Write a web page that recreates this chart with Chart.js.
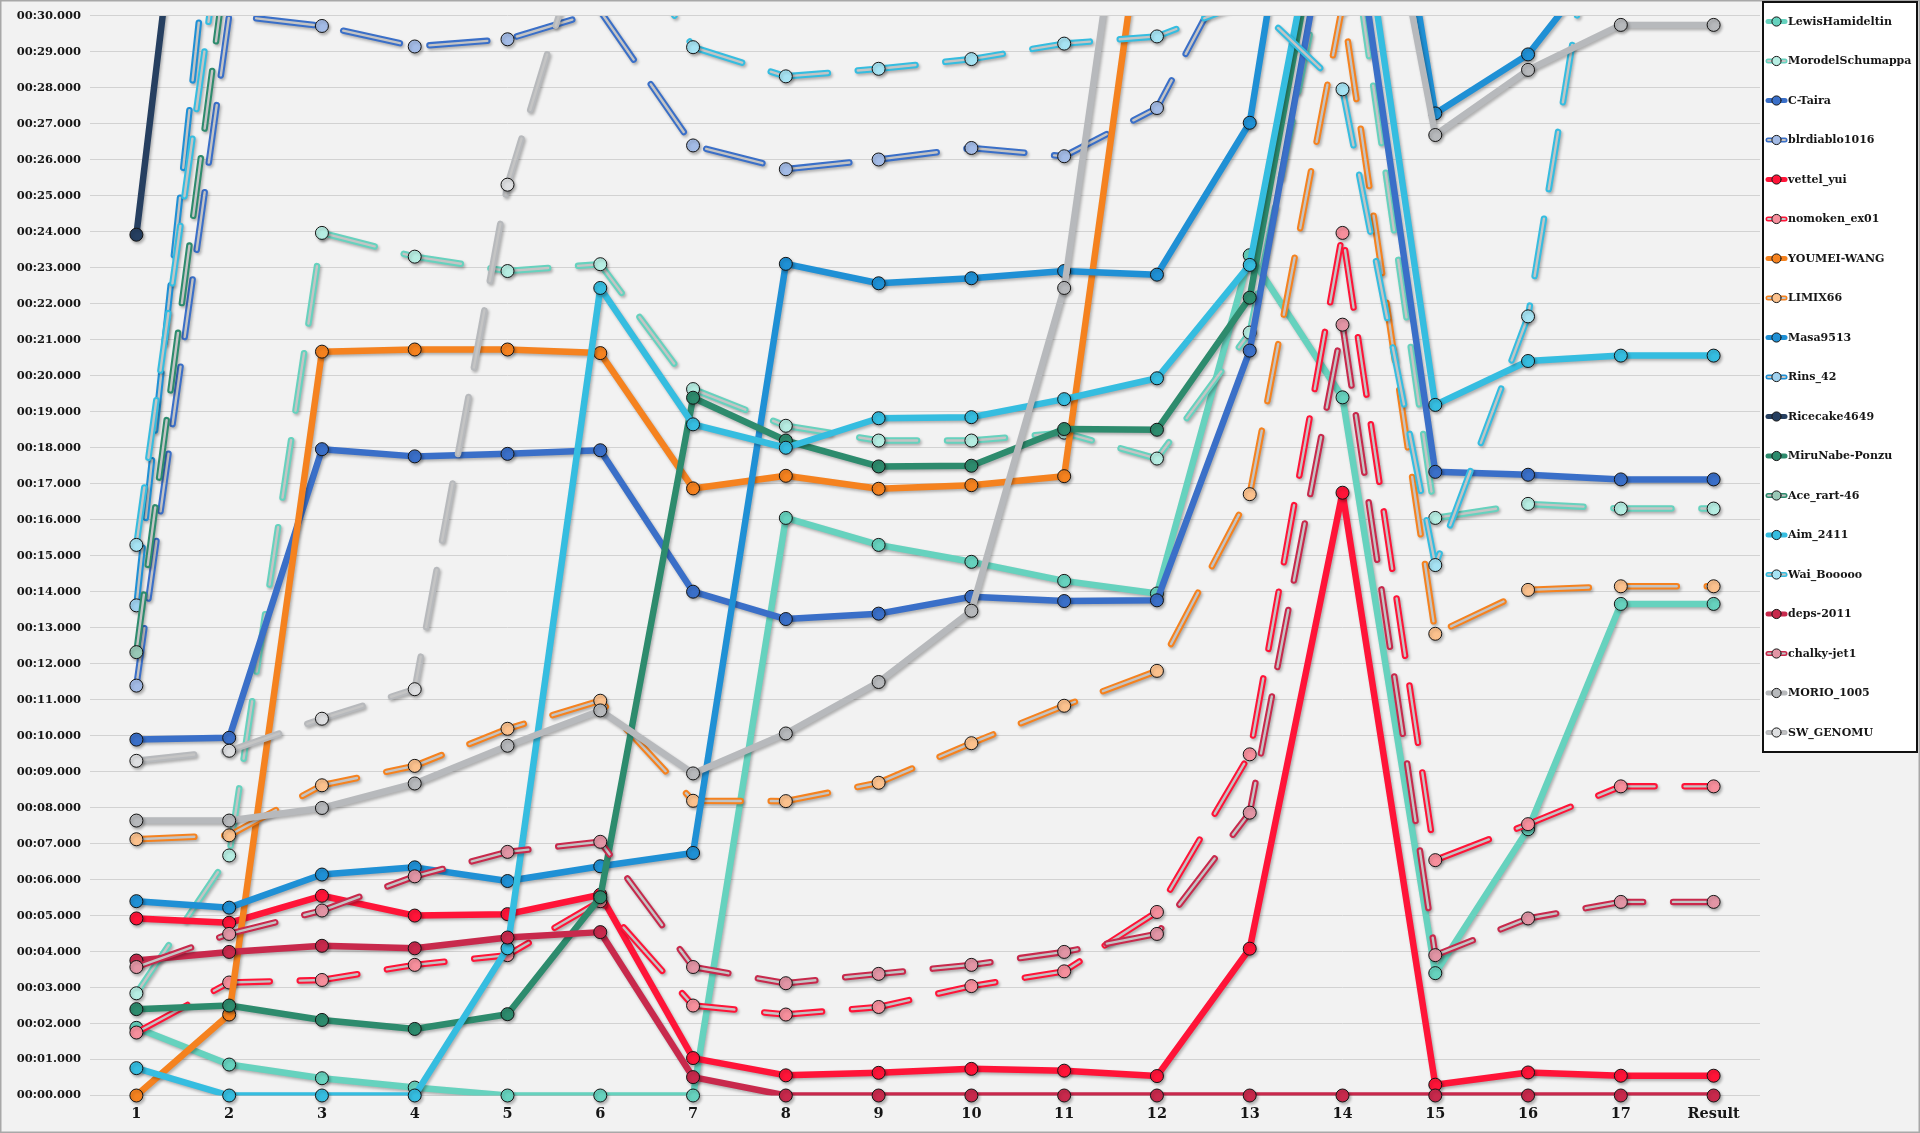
<!DOCTYPE html>
<html lang="en">
<head>
<meta charset="UTF-8">
<title>Lap gap chart</title>
<script src="https://cdn.jsdelivr.net/npm/chart.js"></script>
<style>
  html, body { margin: 0; padding: 0; background: #f2f2f2; }
  #lapChart { display: block; }
</style>
</head>
<body>
<canvas id="lapChart" width="1920" height="1133"></canvas>
<script>
// categories (laps) and y range
const laps = ['1','2','3','4','5','6','7','8','9','10','11','12','13','14','15','16','17','Result'];
const yMin = 0, yMax = 30;

// gap in seconds per lap; values above 30 run off the top of the chart, null = not readable
const lewis    = [1.88, 0.86, 0.48, 0.22, 0, 0, 0, 16.05, 15.30, 14.83, 14.30, 13.95, 23.35, 19.40, 3.40, 7.40, 13.66, 13.66];
const morodel  = [2.84, 6.67, 23.97, 23.31, 22.91, 23.10, 19.63, 18.61, 18.20, 18.20, 18.42, 17.70, 21.20, 34.0, 16.05, 16.44, 16.31, 16.31];
const ctaira   = [9.89, 9.94, 17.96, 17.76, 17.83, 17.93, 14.00, 13.24, 13.39, 13.86, 13.74, 13.76, 20.70, 35.0, 17.33, 17.25, 17.12, 17.12];
const blrdiablo= [11.39, 30.02, 29.72, 29.15, 29.35, 30.13, 26.40, 25.74, 26.01, 26.33, 26.10, 27.44, 32.3, null, null, null, null, null];
const vettel   = [4.92, 4.80, 5.55, 5.00, 5.04, 5.58, 1.04, 0.56, 0.63, 0.74, 0.69, 0.54, 4.08, 16.75, 0.30, 0.64, 0.55, 0.55];
const nomoken  = [1.75, 3.14, 3.21, 3.63, 3.90, 5.40, 2.50, 2.25, 2.46, 3.04, 3.45, 5.10, 9.48, 23.97, 6.54, 7.54, 8.59, 8.59];
const youmei   = [0, 2.25, 20.67, 20.73, 20.73, 20.63, 16.87, 17.22, 16.86, 16.96, 17.21, 35.8, null, null, null, null, null, null];
const limix    = [7.12, 7.23, 8.62, 9.16, 10.19, 10.97, 8.19, 8.18, 8.69, 9.79, 10.83, 11.80, 16.71, 30.3, 12.83, 14.05, 14.15, 14.15];
const masa     = [5.40, 5.22, 6.14, 6.34, 5.96, 6.37, 6.74, 23.11, 22.57, 22.71, 22.91, 22.81, 27.03, 43.0, 27.29, 28.93, 32.2, null];
const rins     = [13.62, 37.7, null, null, null, null, null, null, null, null, null, null, null, null, null, null, null, null];
const ricecake = [23.92, 45.4, null, null, null, null, null, null, null, null, null, null, null, null, null, null, null, null];
const mirunabe = [2.40, 2.50, 2.10, 1.85, 2.26, 5.51, 19.39, 18.20, 17.48, 17.50, 18.52, 18.50, 22.17, 36.3, null, null, null, null];
const ace      = [12.32, 32.1, null, null, null, null, null, null, null, null, null, null, null, null, null, null, null, null];
const aim      = [0.76, 0, 0, 0, 4.09, 22.44, 18.65, 18.00, 18.82, 18.85, 19.35, 19.93, 23.08, 36.6, 19.19, 20.41, 20.56, 20.56];
const wai      = [15.30, 34.0, null, null, null, 33.5, 29.13, 28.32, 28.53, 28.80, 29.23, 29.43, 30.42, 27.96, 14.74, 21.65, 37.5, null];
const deps     = [3.75, 3.99, 4.16, 4.09, 4.39, 4.54, 0.51, 0, 0, 0, 0, 0, 0, 0, 0, 0, 0, 0];
const chalky   = [3.57, 4.49, 5.14, 6.09, 6.77, 7.05, 3.57, 3.12, 3.38, 3.63, 3.99, 4.49, 7.86, 21.42, 3.90, 4.92, 5.38, 5.38];
const morio    = [7.64, 7.64, 7.99, 8.67, 9.72, 10.70, 8.95, 10.06, 11.49, 13.47, 22.44, 40.5, null, 40.2, 26.69, 28.50, 29.75, 29.75];
const genomu   = [9.30, 9.58, 10.47, 11.29, 25.31, 33.8, null, null, null, null, null, null, null, null, null, null, null, null];

// drivers in legend order with their look
const series = [
  { name: 'LewisHamideltin',  data: lewis,     color: '#66d2be', marker: '#66d2be', dashed: false },
  { name: 'MorodelSchumappa', data: morodel,   color: '#66d2be', marker: '#b6ede2', dashed: true },
  { name: 'C-Taira',          data: ctaira,    color: '#3a6fc8', marker: '#3a6fc8', dashed: false },
  { name: 'blrdiablo1016',    data: blrdiablo, color: '#3a6fc8', marker: '#a3bbe6', dashed: true },
  { name: 'vettel_yui',       data: vettel,    color: '#ff1438', marker: '#ff1438', dashed: false },
  { name: 'nomoken_ex01',     data: nomoken,   color: '#ff1438', marker: '#f68f9c', dashed: true },
  { name: 'YOUMEI-WANG',      data: youmei,    color: '#f5821f', marker: '#f5821f', dashed: false },
  { name: 'LIMIX66',          data: limix,     color: '#f5821f', marker: '#fbc18d', dashed: true },
  { name: 'Masa9513',         data: masa,      color: '#1f90d5', marker: '#1f90d5', dashed: false },
  { name: 'Rins_42',          data: rins,      color: '#1f90d5', marker: '#9fd1ef', dashed: true },
  { name: 'Ricecake4649',     data: ricecake,  color: '#263f60', marker: '#263f60', dashed: false },
  { name: 'MiruNabe-Ponzu',   data: mirunabe,  color: '#2d8b6d', marker: '#2d8b6d', dashed: false },
  { name: 'Ace_rart-46',      data: ace,       color: '#2d8b6d', marker: '#98c8b6', dashed: true },
  { name: 'Aim_2411',         data: aim,       color: '#35bde0', marker: '#35bde0', dashed: false },
  { name: 'Wai_Booooo',       data: wai,       color: '#35bde0', marker: '#a6e3f3', dashed: true },
  { name: 'deps-2011',        data: deps,      color: '#c8294c', marker: '#c8294c', dashed: false },
  { name: 'chalky-jet1',      data: chalky,    color: '#c8294c', marker: '#e295a5', dashed: true },
  { name: 'MORIO_1005',       data: morio,     color: '#b7b9bc', marker: '#b7b9bc', dashed: false },
  { name: 'SW_GENOMU',        data: genomu,    color: '#b7b9bc', marker: '#dedfe1', dashed: true }
];

const DASH = [58, 30];
const INNER = '#c4c4c4';
const serif = 'DejaVu Serif';

// later series sit on top, like the original
const datasets = [];
series.forEach((s, i) => {
  const base = 1000 - i * 3;
  datasets.push({
    label: s.name, data: s.data, borderColor: s.color, backgroundColor: s.color,
    borderWidth: 6.5, borderDash: s.dashed ? DASH : [], borderCapStyle: 'round', borderJoinStyle: 'round',
    pointRadius: 0, tension: 0, clip: 0, order: base, shadow: true
  });
  if (s.dashed) {
    datasets.push({
      label: s.name + ' inner', data: s.data, borderColor: INNER,
      borderWidth: 2.4, borderDash: DASH, borderCapStyle: 'round', borderJoinStyle: 'round',
      pointRadius: 0, tension: 0, clip: 0, order: base - 1
    });
  }
  datasets.push({
    label: s.name + ' markers', data: s.data.map(v => (v !== null && v <= yMax) ? v : null),
    showLine: false, pointRadius: 6.5, pointBackgroundColor: s.marker,
    pointBorderColor: '#151515', pointBorderWidth: 1, clip: false, order: base - 2, shadow: true
  });
});

const shadowPlugin = {
  id: 'lineShadow',
  beforeDatasetDraw(chart, args) {
    if (!chart.data.datasets[args.index].shadow) return;
    const c = chart.ctx;
    c.save();
    c.shadowColor = 'rgba(0,0,0,0.28)';
    c.shadowBlur = 3;
    c.shadowOffsetX = 1.5;
    c.shadowOffsetY = 2;
  },
  afterDatasetDraw(chart, args) {
    if (chart.data.datasets[args.index].shadow) chart.ctx.restore();
  }
};

const backdrop = {
  id: 'backdrop',
  beforeDraw(chart) {
    const c = chart.ctx;
    c.save();
    c.fillStyle = '#f2f2f2';
    c.fillRect(0, 0, chart.width, chart.height);
    c.restore();
  },
  afterDraw(chart) {
    const c = chart.ctx;
    c.save();
    c.strokeStyle = '#a8a8a8';
    c.lineWidth = 1.5;
    c.strokeRect(0.75, 0.75, chart.width - 1.5, chart.height - 1.5);
    c.restore();
  }
};

// legend drawn by hand so it matches the boxed Excel legend
const boxLegend = {
  id: 'boxLegend',
  afterDraw(chart) {
    const c = chart.ctx;
    const bx = 1763, by = 2, bw = 154, bh = 750;
    c.save();
    c.fillStyle = '#ffffff';
    c.fillRect(bx, by, bw, bh);
    c.strokeStyle = '#111';
    c.lineWidth = 2;
    c.strokeRect(bx, by, bw, bh);
    c.font = 'bold 11px "' + serif + '"';
    c.textBaseline = 'middle';
    c.textAlign = 'left';
    series.forEach((s, i) => {
      const y = 21.5 + i * 39.5;
      c.lineCap = 'round';
      c.strokeStyle = s.color;
      c.lineWidth = 5;
      c.beginPath(); c.moveTo(1768, y); c.lineTo(1785, y); c.stroke();
      if (s.dashed) {
        c.strokeStyle = INNER;
        c.lineWidth = 1.8;
        c.beginPath(); c.moveTo(1768, y); c.lineTo(1785, y); c.stroke();
      }
      c.fillStyle = s.marker;
      c.strokeStyle = '#151515';
      c.lineWidth = 1;
      c.beginPath(); c.arc(1776.5, y, 4.6, 0, Math.PI * 2); c.fill(); c.stroke();
      c.fillStyle = '#161616';
      c.fillText(s.name, 1788, y + 0.5);
    });
    c.restore();
  }
};

new Chart(document.getElementById('lapChart'), {
  type: 'line',
  data: { labels: laps, datasets: datasets },
  options: {
    responsive: false,
    animation: false,
    devicePixelRatio: 1,
    layout: { padding: { left: 0, right: 160, top: 10, bottom: 0 } },
    plugins: { legend: { display: false }, tooltip: { enabled: false } },
    scales: {
      x: {
        offset: true,
        grid: { display: false, drawTicks: false },
        border: { display: false },
        ticks: { color: '#161616', padding: 10, autoSkip: false, maxRotation: 0,
                 font: { family: serif, weight: 'bold', size: 14.5 } },
        afterFit(scale) { scale.height = 37.5; }
      },
      y: {
        min: yMin, max: yMax,
        grid: { color: '#d2d2d2', lineWidth: 1, drawTicks: false },
        border: { display: false },
        ticks: { stepSize: 1, color: '#161616', padding: 9,
                 font: { family: serif, weight: 'bold', size: 11.5 },
                 callback: v => '00:' + String(v).padStart(2, '0') + '.000' },
        afterFit(scale) { scale.width = 90; }
      }
    }
  },
  plugins: [backdrop, shadowPlugin, boxLegend]
});
</script>
</body>
</html>
